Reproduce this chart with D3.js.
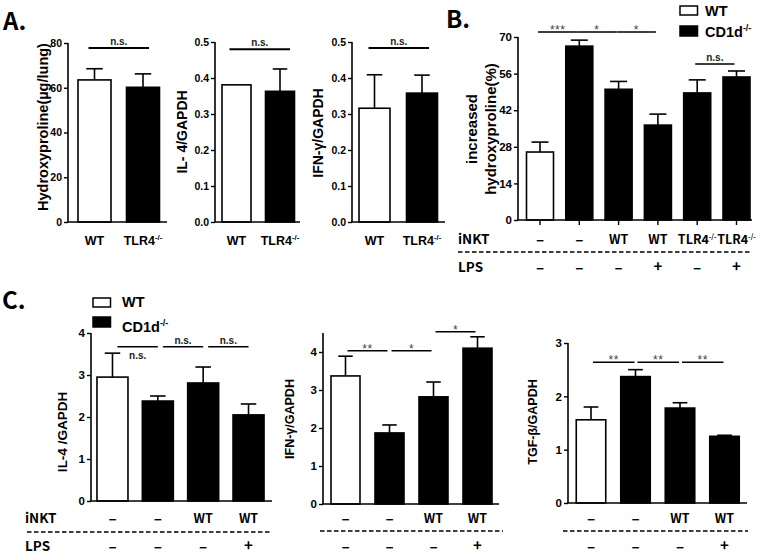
<!DOCTYPE html>
<html><head><meta charset="utf-8">
<script src="https://cdn.jsdelivr.net/npm/d3@7"></script>
<style>body{margin:0;background:#fff}svg{display:block}</style>
</head><body><svg id="c" width="760" height="556"></svg>
<script>
// ---------------- DATA ----------------
const aGroups = ["WT", "TLR4-/-"];
const aStrain = ["WT", "KO"];
const aHydroxy = [63.5, 60.2];
const aHydroxyErr = [5.0, 6.0];
const aHydroxyTicks = [0, 20, 40, 60, 80];
const aIL4 = [0.381, 0.363];
const aIL4Err = [0, 0.062];
const aIFN = [0.316, 0.358];
const aIFNErr = [0.093, 0.050];
const aRatioTicks = [0, 0.1, 0.2, 0.3, 0.4, 0.5];

const bINKT = ["–", "–", "WT", "WT", "TLR4-/-", "TLR4-/-"];
const bLPS = ["–", "–", "–", "+", "–", "+"];
const bStrain = ["WT", "KO", "KO", "KO", "KO", "KO"];
const bValues = [26.0, 66.5, 50.0, 36.3, 48.6, 54.7];
const bErr = [3.8, 2.3, 3.0, 4.2, 5.0, 2.3];
const bTicks = [0, 14, 28, 42, 56, 70];
const bSig = [
  {from: 0, to: 1, label: "***", y: 71.9},
  {from: 1, to: 2, label: "*", y: 71.9},
  {from: 2, to: 3, label: "*", y: 71.9},
  {from: 4, to: 5, label: "n.s.", y: 59.7}
];

const cINKT = ["–", "–", "WT", "WT"];
const cLPS = ["–", "–", "–", "+"];
const cStrain = ["WT", "KO", "KO", "KO"];
const cIL4 = [2.95, 2.38, 2.81, 2.05];
const cIL4Err = [0.57, 0.12, 0.38, 0.26];
const cIL4Ticks = [0, 1, 2, 3, 4];
const cIL4Sig = [
  {from: 0, to: 1, label: "n.s.", y: 3.67, below: true},
  {from: 1, to: 2, label: "n.s.", y: 3.67},
  {from: 2, to: 3, label: "n.s.", y: 3.67}
];
const cIFN = [3.37, 1.87, 2.82, 4.10];
const cIFNErr = [0.52, 0.21, 0.39, 0.30];
const cIFNTicks = [0, 1, 2, 3, 4];
const cIFNSig = [
  {from: 0, to: 1, label: "**", y: 4.03},
  {from: 1, to: 2, label: "*", y: 4.03},
  {from: 2, to: 3, label: "*", y: 4.53}
];
const cTGF = [1.56, 2.37, 1.78, 1.25];
const cTGFErr = [0.24, 0.13, 0.10, 0.02];
const cTGFTicks = [0, 1, 2, 3];
const cTGFSig = [
  {from: 0, to: 1, label: "**", y: 2.64},
  {from: 1, to: 2, label: "**", y: 2.64},
  {from: 2, to: 3, label: "**", y: 2.64}
];

const legendLabels = ["WT", "CD1d-/-"];
const legendKeys = ["WT", "KO"];
const fillOf = {WT: "#ffffff", KO: "#000000"};

// ---------------- DRAWING ----------------
const svg = d3.select("#c");
const ARIAL = "'Liberation Sans', Arial, Helvetica, sans-serif";
const KR = "'Noto Sans CJK KR', 'Open Sans', sans-serif";

function supText(sel, label, size, ratio) {
  const m = label.match(/^(.*?)(-\/-)$/);
  if (m) {
    sel.append("tspan").text(m[1]);
    sel.append("tspan").attr("dy", -size * 0.4).attr("font-size", size * (ratio || 0.62)).text(m[2]);
  } else {
    sel.text(label);
  }
}

function panel(o) {
  const g = svg.append("g");
  const idx = o.values.map((d, i) => i);
  const x = d3.scaleBand().domain(idx).range(o.band).padding(0);
  const y = d3.scaleLinear().domain(o.yDomain).range(o.yRange);
  const cx = i => x(i) + x.bandwidth() / 2;
  const base = y(0);

  g.selectAll("rect.bar").data(o.values).join("rect")
    .attr("x", (d, i) => cx(i) - o.barW / 2)
    .attr("y", d => y(d))
    .attr("width", o.barW)
    .attr("height", d => base - y(d))
    .attr("fill", (d, i) => fillOf[o.strain[i]])
    .attr("stroke", "#000").attr("stroke-width", 1.6);

  o.values.forEach((v, i) => {
    const e = o.errs[i];
    if (!e) return;
    const cw = o.capW || o.barW * 0.5;
    g.append("line").attr("x1", cx(i)).attr("x2", cx(i))
      .attr("y1", y(v)).attr("y2", y(v + e)).attr("stroke", "#000").attr("stroke-width", 1.6);
    g.append("line").attr("x1", cx(i) - cw / 2).attr("x2", cx(i) + cw / 2)
      .attr("y1", y(v + e)).attr("y2", y(v + e)).attr("stroke", "#000").attr("stroke-width", 1.6);
  });

  const ya = g.append("g").attr("transform", `translate(${o.axisX},0)`)
    .call(d3.axisLeft(y).tickValues(o.ticks).tickSize(4).tickSizeOuter(0).tickPadding(2)
      .tickFormat(o.tickFmt ? d3.format(o.tickFmt) : d3.format("d")));
  ya.select(".domain").attr("stroke", "#000").attr("stroke-width", 1.6)
    .attr("d", `M0,${o.yRange[0]}V${y(o.yDomain[1])}`);
  ya.selectAll(".tick line").attr("stroke", "#000").attr("stroke-width", 1.4);
  ya.selectAll(".tick text").attr("font-family", ARIAL).attr("font-weight", "bold")
    .attr("font-size", o.tickSize || 11).attr("fill", "#000");

  g.append("line").attr("x1", o.axisX - 0.8).attr("x2", o.axisEnd)
    .attr("y1", base).attr("y2", base).attr("stroke", "#000").attr("stroke-width", 1.6);
  if (o.xTicks) {
    const xa = g.append("g").attr("transform", `translate(0,${base})`)
      .call(d3.axisBottom(x).tickSize(5).tickFormat(""));
    xa.select(".domain").remove();
    xa.selectAll(".tick line").attr("stroke", "#000").attr("stroke-width", 1.4);
  }

  o.title.forEach(t => {
    g.append("text")
      .attr("transform", `translate(${t.x},${o.titleY}) rotate(-90)`)
      .attr("text-anchor", "middle").attr("dominant-baseline", "central")
      .attr("font-family", ARIAL).attr("font-weight", "bold")
      .attr("font-size", o.titleSize).text(t.text);
  });

  if (o.catLabels) {
    o.catLabels.forEach((c, i) => {
      const t = g.append("text").attr("x", cx(i)).attr("y", o.catY)
        .attr("text-anchor", "middle").attr("font-family", ARIAL)
        .attr("font-weight", "bold").attr("font-size", 12.5);
      supText(t, c, 12.5);
    });
  }

  (o.sig || []).forEach(s => {
    const x1 = cx(s.from) + o.sigIn[0];
    const x2 = cx(s.to) - o.sigIn[1];
    const yy = y(s.y);
    g.append("line").attr("x1", x1).attr("x2", x2).attr("y1", yy).attr("y2", yy)
      .attr("stroke", "#000").attr("stroke-width", o.sigW || 1.5);
    const star = s.label.indexOf("*") >= 0;
    g.append("text").attr("x", (x1 + x2) / 2)
      .attr("y", s.below ? yy + 12 : (star ? yy + 2 : yy - 3))
      .attr("text-anchor", "middle").attr("font-family", ARIAL)
      .attr("font-weight", star ? "normal" : "bold")
      .attr("font-size", star ? 12 : (o.sigSize || 10)).attr("fill", star ? "#444" : "#222")
      .attr("letter-spacing", star ? 0.5 : 0)
      .text(s.label);
  });

  if (o.rows) {
    const r = o.rows;
    const row = (vals, yy) => vals.forEach((v, i) => {
      const isSign = v === "–" || v === "+";
      const fs = isSign ? 15 : 12.5;
      const t = g.append("text").attr("x", cx(i)).attr("y", yy + (v === "–" ? 1 : 0))
        .attr("text-anchor", "middle").attr("font-family", KR)
        .attr("font-weight", "bold").attr("font-size", fs);
      supText(t, v, fs, 0.55);
    });
    row(r.inkt, r.y1);
    row(r.lps, r.y2);
    g.append("line").attr("x1", r.dash[0]).attr("x2", r.dash[1])
      .attr("y1", r.dashY).attr("y2", r.dashY).attr("stroke", "#000")
      .attr("stroke-width", 1.4).attr("stroke-dasharray", "4.5,2.5");
    if (r.titles) {
      g.append("text").attr("x", r.titleX).attr("y", r.y1).attr("font-family", KR)
        .attr("font-weight", "bold").attr("font-size", 13.5).text("iNKT");
      g.append("text").attr("x", r.titleX).attr("y", r.y2).attr("font-family", KR)
        .attr("font-weight", "bold").attr("font-size", 13.5).text("LPS");
    }
  }
  return g;
}

function legend(x0, y0, gap, tx, dy) {
  legendLabels.forEach((l, i) => {
    const yy = y0 + i * gap;
    svg.append("rect").attr("x", x0).attr("y", yy).attr("width", 17.5).attr("height", i ? 10 : 9)
      .attr("fill", fillOf[legendKeys[i]]).attr("stroke", "#000").attr("stroke-width", 1.5);
    const t = svg.append("text").attr("x", tx).attr("y", yy + dy[i])
      .attr("font-family", ARIAL).attr("font-weight", "bold").attr("font-size", 14.5);
    supText(t, l, 14.5);
  });
}

function letter(txt, x, y) {
  svg.append("text").attr("x", x).attr("y", y).attr("font-family", KR)
    .attr("font-weight", "bold").attr("font-size", 24).text(txt);
}

// ----- Panel A -----
letter("A.", 3, 30);
panel({values: aHydroxy, errs: aHydroxyErr, strain: aStrain, band: [70.25, 167.25], barW: 33,
  axisX: 68, axisEnd: 167, yRange: [222, 43], yDomain: [0, 80], ticks: aHydroxyTicks, tickSize: 10.5,
  title: [{x: 43, text: "Hydroxyproline(µg/lung)"}], titleY: 127, titleSize: 14.5,
  catLabels: aGroups, catY: 245, sig: [{from: 0, to: 1, label: "n.s.", y: 77.8}], sigIn: [-6, -6], sigW: 2});
panel({values: aIL4, errs: aIL4Err, strain: aStrain, band: [214.75, 301.75], barW: 29,
  axisX: 215, axisEnd: 300, yRange: [222, 42], yDomain: [0, 0.5], ticks: aRatioTicks, tickFmt: ".1f", tickSize: 10.5,
  title: [{x: 182, text: "IL- 4/GAPDH"}], titleY: 132, titleSize: 14,
  catLabels: aGroups, catY: 245, sig: [{from: 0, to: 1, label: "n.s.", y: 0.48}], sigIn: [-7, -10], sigW: 2});
panel({values: aIFN, errs: aIFNErr, strain: aStrain, band: [350.75, 445.75], barW: 31,
  axisX: 352, axisEnd: 445, yRange: [222, 42], yDomain: [0, 0.5], ticks: aRatioTicks, tickFmt: ".1f", tickSize: 10.5,
  title: [{x: 318, text: "IFN-γ/GAPDH"}], titleY: 133, titleSize: 14,
  catLabels: aGroups, catY: 245, sig: [{from: 0, to: 1, label: "n.s.", y: 0.483}], sigIn: [-6, -7], sigW: 2});

// ----- Panel B -----
letter("B.", 446, 28);
legend(680, 6, 20, 705, [10, 11]);
panel({values: bValues, errs: bErr, strain: bStrain, band: [520.35, 756.15], barW: 27, capW: 17,
  axisX: 518, axisEnd: 752, yRange: [220, 37], yDomain: [0, 70], ticks: bTicks, tickSize: 11.5, xTicks: true,
  title: [{x: 471, text: "increased"}, {x: 490, text: "hydroxyproline(%)"}], titleY: 129, titleSize: 15,
  sig: bSig, sigIn: [-2, 2], sigSize: 10,
  rows: {inkt: bINKT, lps: bLPS, y1: 244, y2: 272, dash: [458, 750], dashY: 252, titles: true, titleX: 458}});

// ----- Panel C -----
letter("C.", 2, 309);
legend(93, 298, 19, 122, [9, 15]);
panel({values: cIL4, errs: cIL4Err, strain: cStrain, band: [89.8, 271.2], barW: 31,
  axisX: 91, axisEnd: 272, yRange: [501, 333], yDomain: [0, 4], ticks: cIL4Ticks, tickSize: 11.5,
  title: [{x: 62, text: "IL-4 /GAPDH"}], titleY: 432, titleSize: 13.5,
  sig: cIL4Sig, sigIn: [5, 0], sigSize: 10,
  rows: {inkt: cINKT, lps: cLPS, y1: 523, y2: 551, dash: [27, 270], dashY: 532, titles: true, titleX: 25}});
panel({values: cIFN, errs: cIFNErr, strain: cStrain, band: [323.5, 499.5], barW: 29,
  axisX: 323, axisEnd: 499, yRange: [504, 333], yDomain: [0, 4.5], ticks: cIFNTicks, tickSize: 11.5,
  title: [{x: 290, text: "IFN-γ/GAPDH"}], titleY: 419, titleSize: 12.5,
  sig: cIFNSig, sigIn: [2, 2], sigSize: 10,
  rows: {inkt: cINKT, lps: cLPS, y1: 523, y2: 551, dash: [320, 503], dashY: 531}});
panel({values: cTGF, errs: cTGFErr, strain: cStrain, band: [568.75, 746.75], barW: 29.5,
  axisX: 568, axisEnd: 747, yRange: [503, 343], yDomain: [0, 3], ticks: cTGFTicks, tickSize: 11.5,
  title: [{x: 533, text: "TGF-β/GAPDH"}], titleY: 422, titleSize: 12.5,
  sig: cTGFSig, sigIn: [2, 1], sigSize: 10,
  rows: {inkt: cINKT, lps: cLPS, y1: 523, y2: 551, dash: [563, 748], dashY: 531}});
</script>
</body></html>
